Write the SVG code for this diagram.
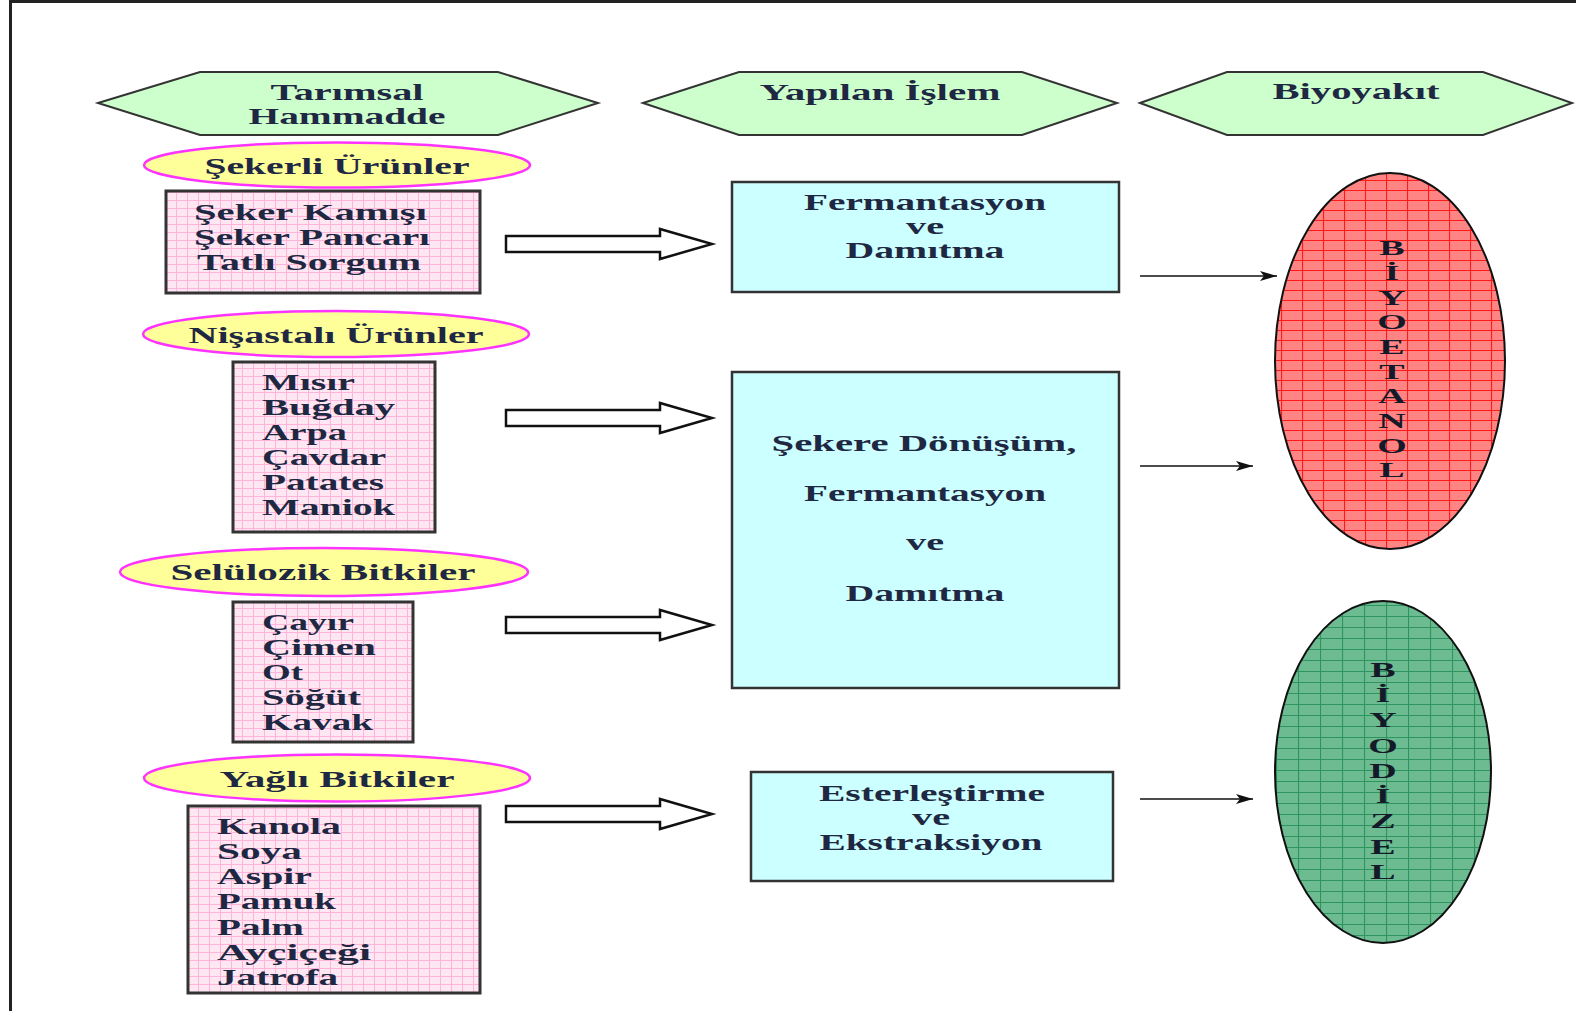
<svg xmlns="http://www.w3.org/2000/svg" width="1576" height="1011" viewBox="0 0 1576 1011">
<style>
.t{font-family:"Liberation Serif","Times New Roman",serif;font-weight:bold;font-size:24px;fill:#1f2842}
.c{text-anchor:middle}
.v{font-family:"Liberation Serif","Times New Roman",serif;font-weight:bold;font-size:20px;fill:#151a2a;text-anchor:middle}
.hex{fill:#ccffcc;stroke:#333;stroke-width:2}
.cat{fill:#ffff99;stroke:#ff33ff;stroke-width:2.5}
.lst{fill:url(#pink);stroke:#333;stroke-width:3}
.proc{fill:#ccffff;stroke:#333;stroke-width:2.5}
.blk{fill:#fff;stroke:#111;stroke-width:2.5;stroke-linejoin:miter}
.thin{stroke:#111;stroke-width:1.6;fill:none;marker-end:url(#ah)}
</style>
<defs>
<pattern id="pink" patternUnits="userSpaceOnUse" width="11" height="8">
<rect width="11" height="8" fill="#ffe6f3"/>
<path d="M0 0.5H11M0.5 0V8" stroke="#ffb5d9" stroke-width="1"/>
</pattern>
<pattern id="red" patternUnits="userSpaceOnUse" width="21" height="10">
<rect width="21" height="10" fill="#ff8484"/>
<path d="M0 0.5H21M0.5 0V10" stroke="#ff1a1a" stroke-width="1.2"/>
</pattern>
<pattern id="green" patternUnits="userSpaceOnUse" width="22" height="11">
<rect width="22" height="11" fill="#6dbb90"/>
<path d="M0 0.5H22M0.5 0V11" stroke="#2e9460" stroke-width="1.2"/>
</pattern>
<marker id="ah" markerWidth="18" markerHeight="12" refX="17" refY="6" orient="auto" markerUnits="userSpaceOnUse">
<path d="M0 1L17 6L0 11L4 6Z" fill="#111"/>
</marker>
</defs>
<rect width="1576" height="1011" fill="#fff"/>
<path d="M10.5 1011V1.5H1576" fill="none" stroke="#222" stroke-width="3"/>

<g id="hdr-tarimsal">
<polygon class="hex" points="98,103 200,72 498,72 598,103 498,135 200,135"/>
<text class="t c" x="347" y="100" textLength="153" lengthAdjust="spacingAndGlyphs">Tarımsal</text>
<text class="t c" x="347" y="124" textLength="197" lengthAdjust="spacingAndGlyphs">Hammadde</text>
</g>
<g id="hdr-islem">
<polygon class="hex" points="643,103 739,72 1022,72 1117,103 1022,135 739,135"/>
<text class="t c" x="880" y="100" textLength="241" lengthAdjust="spacingAndGlyphs">Yapılan İşlem</text>
</g>
<g id="hdr-biyoyakit">
<polygon class="hex" points="1140,103 1227,72 1483,72 1572,103 1483,135 1227,135"/>
<text class="t c" x="1356" y="99" textLength="167" lengthAdjust="spacingAndGlyphs">Biyoyakıt</text>
</g>

<g id="cat-sekerli">
<ellipse class="cat" cx="337" cy="165" rx="193" ry="22.5"/>
<text class="t c" x="337" y="174" textLength="265" lengthAdjust="spacingAndGlyphs">Şekerli Ürünler</text>
</g>
<g id="list-sekerli">
<rect class="lst" x="166" y="191" width="314" height="102"/>
<text class="t" x="194" y="220" textLength="233" lengthAdjust="spacingAndGlyphs">Şeker Kamışı</text>
<text class="t" x="194" y="245" textLength="236" lengthAdjust="spacingAndGlyphs">Şeker Pancarı</text>
<text class="t" x="197" y="270" textLength="224" lengthAdjust="spacingAndGlyphs">Tatlı Sorgum</text>
</g>

<g id="cat-nisastali">
<ellipse class="cat" cx="336" cy="334" rx="193" ry="23"/>
<text class="t c" x="336" y="343" textLength="295" lengthAdjust="spacingAndGlyphs">Nişastalı Ürünler</text>
</g>
<g id="list-nisastali">
<rect class="lst" x="233" y="362" width="202" height="170"/>
<text class="t" x="262" y="390" textLength="93" lengthAdjust="spacingAndGlyphs">Mısır</text>
<text class="t" x="262" y="415" textLength="133" lengthAdjust="spacingAndGlyphs">Buğday</text>
<text class="t" x="262" y="440" textLength="85" lengthAdjust="spacingAndGlyphs">Arpa</text>
<text class="t" x="262" y="465" textLength="124" lengthAdjust="spacingAndGlyphs">Çavdar</text>
<text class="t" x="262" y="490" textLength="122" lengthAdjust="spacingAndGlyphs">Patates</text>
<text class="t" x="262" y="515" textLength="133" lengthAdjust="spacingAndGlyphs">Maniok</text>
</g>

<g id="cat-seluloz">
<ellipse class="cat" cx="324" cy="572" rx="204" ry="24"/>
<text class="t c" x="323" y="580" textLength="305" lengthAdjust="spacingAndGlyphs">Selülozik Bitkiler</text>
</g>
<g id="list-seluloz">
<rect class="lst" x="233" y="602" width="180" height="140"/>
<text class="t" x="262" y="630" textLength="92" lengthAdjust="spacingAndGlyphs">Çayır</text>
<text class="t" x="262" y="655" textLength="114" lengthAdjust="spacingAndGlyphs">Çimen</text>
<text class="t" x="262" y="680" textLength="41" lengthAdjust="spacingAndGlyphs">Ot</text>
<text class="t" x="262" y="705" textLength="99" lengthAdjust="spacingAndGlyphs">Söğüt</text>
<text class="t" x="262" y="730" textLength="111" lengthAdjust="spacingAndGlyphs">Kavak</text>
</g>

<g id="cat-yagli">
<ellipse class="cat" cx="337" cy="778" rx="193" ry="23.5"/>
<text class="t c" x="337" y="787" textLength="235" lengthAdjust="spacingAndGlyphs">Yağlı Bitkiler</text>
</g>
<g id="list-yagli">
<rect class="lst" x="188" y="806" width="292" height="187"/>
<text class="t" x="217" y="834" textLength="124" lengthAdjust="spacingAndGlyphs">Kanola</text>
<text class="t" x="217" y="859" textLength="85" lengthAdjust="spacingAndGlyphs">Soya</text>
<text class="t" x="217" y="884" textLength="95" lengthAdjust="spacingAndGlyphs">Aspir</text>
<text class="t" x="217" y="909" textLength="119" lengthAdjust="spacingAndGlyphs">Pamuk</text>
<text class="t" x="217" y="935" textLength="87" lengthAdjust="spacingAndGlyphs">Palm</text>
<text class="t" x="217" y="960" textLength="154" lengthAdjust="spacingAndGlyphs">Ayçiçeği</text>
<text class="t" x="217" y="985" textLength="121" lengthAdjust="spacingAndGlyphs">Jatrofa</text>
</g>

<g id="proc-ferm">
<rect class="proc" x="732" y="182" width="387" height="110"/>
<text class="t c" x="925" y="210" textLength="242" lengthAdjust="spacingAndGlyphs">Fermantasyon</text>
<text class="t c" x="925" y="234" textLength="38" lengthAdjust="spacingAndGlyphs">ve</text>
<text class="t c" x="925" y="258" textLength="159" lengthAdjust="spacingAndGlyphs">Damıtma</text>
</g>
<g id="proc-seker">
<rect class="proc" x="732" y="372" width="387" height="316"/>
<text class="t c" x="924" y="451" textLength="305" lengthAdjust="spacingAndGlyphs">Şekere Dönüşüm,</text>
<text class="t c" x="925" y="501" textLength="242" lengthAdjust="spacingAndGlyphs">Fermantasyon</text>
<text class="t c" x="925" y="550" textLength="38" lengthAdjust="spacingAndGlyphs">ve</text>
<text class="t c" x="925" y="601" textLength="159" lengthAdjust="spacingAndGlyphs">Damıtma</text>
</g>
<g id="proc-ester">
<rect class="proc" x="751" y="772" width="362" height="109"/>
<text class="t c" x="932" y="801" textLength="226" lengthAdjust="spacingAndGlyphs">Esterleştirme</text>
<text class="t c" x="931" y="825" textLength="38" lengthAdjust="spacingAndGlyphs">ve</text>
<text class="t c" x="931" y="850" textLength="223" lengthAdjust="spacingAndGlyphs">Ekstraksiyon</text>
</g>

<g id="fuel-biyoetanol">
<ellipse cx="1390" cy="361" rx="115" ry="188" fill="url(#red)" stroke="#111" stroke-width="2"/>
<g transform="translate(1392,0) scale(1.9,1)">
<text class="v" x="0" y="255">B</text>
<text class="v" x="0" y="280">İ</text>
<text class="v" x="0" y="305">Y</text>
<text class="v" x="0" y="329">O</text>
<text class="v" x="0" y="354">E</text>
<text class="v" x="0" y="379">T</text>
<text class="v" x="0" y="403">A</text>
<text class="v" x="0" y="428">N</text>
<text class="v" x="0" y="453">O</text>
<text class="v" x="0" y="477">L</text>
</g>
</g>
<g id="fuel-biyodizel">
<ellipse cx="1383" cy="772" rx="108" ry="171" fill="url(#green)" stroke="#111" stroke-width="2"/>
<g transform="translate(1383,0) scale(1.9,1)">
<text class="v" x="0" y="677">B</text>
<text class="v" x="0" y="702">İ</text>
<text class="v" x="0" y="727">Y</text>
<text class="v" x="0" y="753">O</text>
<text class="v" x="0" y="778">D</text>
<text class="v" x="0" y="803">İ</text>
<text class="v" x="0" y="828">Z</text>
<text class="v" x="0" y="854">E</text>
<text class="v" x="0" y="879">L</text>
</g>
</g>

<g id="connectors">
<polygon class="blk" points="506,236 660,236 660,229 712,244 660,259 660,252 506,252"/>
<polygon class="blk" points="506,410 660,410 660,403 712,418 660,433 660,426 506,426"/>
<polygon class="blk" points="506,617 660,617 660,610 712,625 660,640 660,633 506,633"/>
<polygon class="blk" points="506,806 660,806 660,799 712,814 660,829 660,822 506,822"/>
<line class="thin" x1="1140" y1="276" x2="1277" y2="276"/>
<line class="thin" x1="1140" y1="466" x2="1253" y2="466"/>
<line class="thin" x1="1140" y1="799" x2="1253" y2="799"/>
</g>
</svg>
